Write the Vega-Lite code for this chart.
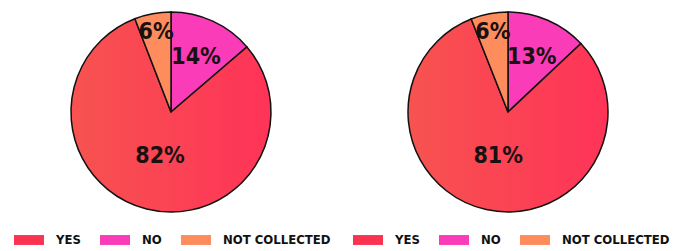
{
  "$schema": "https://vega.github.io/schema/vega-lite/v6.json",
  "padding": 0,
  "spacing": 0,
  "background": "white",
  "config": {
    "view": {"stroke": null},
    "text": {"font": "'Liberation Sans Narrow', 'DejaVu Sans Condensed', 'Roboto Condensed', 'Liberation Sans', sans-serif", "fontWeight": "bold", "fontSize": 23, "color": "#1a1010"},
    "legend": {
      "orient": "none",
      "direction": "horizontal",
      "title": null,
      "symbolType": "M-1,-0.33H1V0.33H-1Z",
      "symbolSize": 900,
      "symbolStrokeWidth": 0,
      "symbolOpacity": 1,
      "labelFont": "'Liberation Sans Narrow', 'DejaVu Sans Condensed', 'Roboto Condensed', 'Liberation Sans', sans-serif",
      "labelFontSize": 13,
      "labelFontWeight": "bold",
      "labelColor": "#111111",
      "labelOffset": 12,
      "columnPadding": 19,
      "labelLimit": 0
    }
  },
  "data": {
    "values": [
      {"chart": "A", "cat": "NO", "ord": 1, "value": 14, "label": "14%"},
      {"chart": "A", "cat": "YES", "ord": 2, "value": 82, "label": "82%"},
      {"chart": "A", "cat": "NOT COLLECTED", "ord": 3, "value": 6, "label": "6%"},
      {"chart": "B", "cat": "NO", "ord": 1, "value": 13, "label": "13%"},
      {"chart": "B", "cat": "YES", "ord": 2, "value": 81, "label": "81%"},
      {"chart": "B", "cat": "NOT COLLECTED", "ord": 3, "value": 6, "label": "6%"}
    ]
  },
  "hconcat": [
    {
      "width": 342,
      "height": 224,
      "transform": [{"filter": "datum.chart === 'A'"}],
      "encoding": {
        "theta": {"field": "value", "type": "quantitative", "stack": true},
        "order": {"field": "ord", "type": "quantitative"}
      },
      "layer": [
        {
          "mark": {"type": "arc", "radius": 100, "stroke": "#111111", "strokeWidth": 1.5},
          "encoding": {
            "fill": {
              "field": "cat",
              "type": "nominal",
              "scale": {"domain": ["YES", "NO", "NOT COLLECTED"], "range": ["#fb3352", "#fa3cb9", "#ff8c5c"]},
              "legend": {"legendX": 14, "legendY": 225},
              "condition": {
                "test": "datum.cat === 'YES'",
                "value": {"gradient": "linear", "x1": 0, "y1": 0, "x2": 1, "y2": 0, "stops": [{"offset": 0, "color": "#f75350"}, {"offset": 1, "color": "#ff3358"}]}
              }
            }
          }
        },
        {
          "mark": {"type": "text", "radius": 45},
          "encoding": {"text": {"condition": {"test": "datum.cat === 'YES'", "field": "label"}, "value": ""}}
        },
        {
          "mark": {"type": "text", "radius": 60},
          "encoding": {"text": {"condition": {"test": "datum.cat === 'NO'", "field": "label"}, "value": ""}}
        },
        {
          "mark": {"type": "text", "radius": 81},
          "encoding": {"text": {"condition": {"test": "datum.cat === 'NOT COLLECTED'", "field": "label"}, "value": ""}}
        }
      ]
    },
    {
      "width": 332,
      "height": 224,
      "transform": [{"filter": "datum.chart === 'B'"}],
      "encoding": {
        "theta": {"field": "value", "type": "quantitative", "stack": true},
        "order": {"field": "ord", "type": "quantitative"}
      },
      "layer": [
        {
          "mark": {"type": "arc", "radius": 100, "stroke": "#111111", "strokeWidth": 1.5},
          "encoding": {
            "fill": {
              "field": "cat",
              "type": "nominal",
              "scale": {"domain": ["YES", "NO", "NOT COLLECTED"], "range": ["#fb3352", "#fa3cb9", "#ff8c5c"]},
              "legend": {"legendX": 11, "legendY": 225},
              "condition": {
                "test": "datum.cat === 'YES'",
                "value": {"gradient": "linear", "x1": 0, "y1": 0, "x2": 1, "y2": 0, "stops": [{"offset": 0, "color": "#f75350"}, {"offset": 1, "color": "#ff3358"}]}
              }
            }
          }
        },
        {
          "mark": {"type": "text", "radius": 45},
          "encoding": {"text": {"condition": {"test": "datum.cat === 'YES'", "field": "label"}, "value": ""}}
        },
        {
          "mark": {"type": "text", "radius": 60},
          "encoding": {"text": {"condition": {"test": "datum.cat === 'NO'", "field": "label"}, "value": ""}}
        },
        {
          "mark": {"type": "text", "radius": 81},
          "encoding": {"text": {"condition": {"test": "datum.cat === 'NOT COLLECTED'", "field": "label"}, "value": ""}}
        }
      ]
    }
  ],
  "resolve": {"scale": {"fill": "independent", "theta": "independent"}, "legend": {"fill": "independent"}}
}
